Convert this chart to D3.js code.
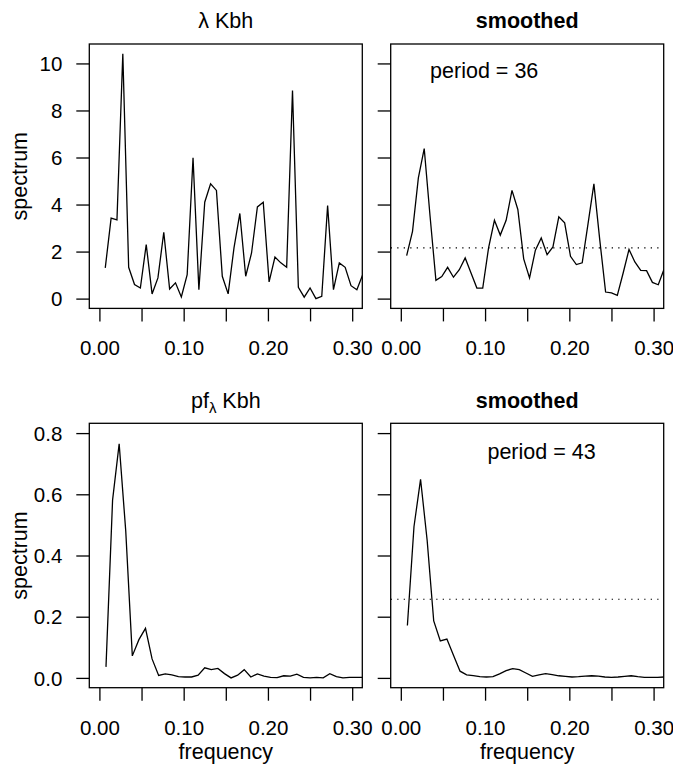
<!DOCTYPE html>
<html>
<head>
<meta charset="utf-8">
<script src="https://cdn.jsdelivr.net/npm/d3@7"></script>
<style>
  body { margin: 0; background: #fff; }
  svg { display: block; font-family: "Liberation Sans", Arial, Helvetica, sans-serif; }
</style>
</head>
<body>
<div id="chart"></div>
<script>
// periodogram ordinates, Fourier frequencies k/144 (top) and k/128 (bottom)
const topStep = 1 / 144;
const bottomStep = 1 / 128;

const topRaw = [1.31, 3.42, 3.35, 10.41, 1.33, 0.60, 0.45, 2.30, 0.20, 0.88,
  2.82, 0.41, 0.67, 0.07, 1.02, 5.99, 0.38, 4.10, 4.88, 4.60,
  0.95, 0.20, 2.16, 3.62, 0.95, 1.94, 3.90, 4.10, 0.71, 1.77,
  1.52, 1.33, 8.85, 0.48, 0.06, 0.45, 0.00, 0.10, 3.96, 0.38,
  1.52, 1.33, 0.55, 0.38, 1.02];

const topSmooth = [1.83, 2.86, 5.13, 6.38, 3.50, 0.78, 0.94, 1.33, 0.91, 1.23,
  1.73, 1.09, 0.45, 0.45, 2.16, 3.33, 2.70, 3.33, 4.60, 3.79,
  1.69, 0.88, 2.06, 2.58, 1.87, 2.20, 3.48, 3.22, 1.80, 1.45,
  1.52, 3.19, 4.88, 2.50, 0.28, 0.24, 0.14, 1.09, 2.09, 1.56,
  1.20, 1.19, 0.69, 0.59, 1.26];

const bottomRaw = [0.036, 0.581, 0.765, 0.48, 0.072, 0.125, 0.162, 0.062, 0.008, 0.013,
  0.010, 0.004, 0.003, 0.003, 0.009, 0.033, 0.027, 0.031, 0.014, 0.000,
  0.009, 0.027, 0.003, 0.013, 0.006, 0.002, 0.001, 0.007, 0.006, 0.012,
  0.002, 0.000, 0.002, 0.000, 0.014, 0.004, 0.000, 0.002, 0.002, 0.002];

const bottomSmooth = [0.171, 0.494, 0.649, 0.45, 0.186, 0.121, 0.127, 0.074, 0.022, 0.010,
  0.0075, 0.004, 0.003, 0.004, 0.013, 0.024, 0.030, 0.027, 0.016, 0.005,
  0.010, 0.014, 0.011, 0.007, 0.005, 0.003, 0.004, 0.006, 0.007, 0.006,
  0.003, 0.002, 0.003, 0.005, 0.007, 0.004, 0.002, 0.002, 0.002, 0.003];

// reference levels (dotted) and period annotations
const topLevel = 2.16;
const bottomLevel = 0.257;
const topPeriod = 'period = 36';
const bottomPeriod = 'period = 43';

const xLim = [0, 0.3];
const topYLim = [0, 10.41];
const bottomYLim = [0, 0.8];

const xTicks = [0, 0.05, 0.10, 0.15, 0.20, 0.25, 0.30];
const xTickLabels = ['0.00', '', '0.10', '', '0.20', '', '0.30'];
const topYTicks = [0, 2, 4, 6, 8, 10];
const topYTickLabels = ['0', '2', '4', '6', '8', '10'];
const bottomYTicks = [0, 0.2, 0.4, 0.6, 0.8];
const bottomYTickLabels = ['0.0', '0.2', '0.4', '0.6', '0.8'];

// R-style 4% axis extension
function extend(lim) {
  const d = (lim[1] - lim[0]) * 0.04;
  return [lim[0] - d, lim[1] + d];
}

const width = 673, height = 774;
const svg = d3.select('#chart').append('svg')
  .attr('width', width)
  .attr('height', height);

const colX = [89.3, 390.7];
const rowY = [44, 423.3];
const pw = 273, ph = 264.4;
const fs = 20.5;   // tick labels
const ls = 21.5;   // titles, axis labels, annotations

const panels = [
  { col: 0, row: 0, values: topRaw, step: topStep, ylim: topYLim, yt: topYTicks, ytl: topYTickLabels, title: 'raw', xlab: false },
  { col: 1, row: 0, values: topSmooth, step: topStep, ylim: topYLim, yt: topYTicks, ytl: null, title: 'smoothed', level: topLevel, period: topPeriod, periodAt: [0.099, 9.7], xlab: false },
  { col: 0, row: 1, values: bottomRaw, step: bottomStep, ylim: bottomYLim, yt: bottomYTicks, ytl: bottomYTickLabels, title: 'pf', xlab: true },
  { col: 1, row: 1, values: bottomSmooth, step: bottomStep, ylim: bottomYLim, yt: bottomYTicks, ytl: null, title: 'smoothed', level: bottomLevel, period: bottomPeriod, periodAt: [0.167, 0.74], xlab: true }
];

panels.forEach((p, i) => {
  const x0 = colX[p.col], y0 = rowY[p.row];
  const g = svg.append('g').attr('transform', `translate(${x0},${y0})`);

  const x = d3.scaleLinear().domain(extend(xLim)).range([0, pw]);
  const y = d3.scaleLinear().domain(extend(p.ylim)).range([ph, 0]);

  // clip to the plot box
  g.append('clipPath').attr('id', 'clip' + i)
    .append('rect').attr('width', pw).attr('height', ph);

  const pts = p.values.map((v, k) => ({ f: (k + 1) * p.step, v: v }));
  const line = d3.line().x(d => x(d.f)).y(d => y(d.v));

  g.append('path')
    .datum(pts)
    .attr('clip-path', `url(#clip${i})`)
    .attr('d', line)
    .style('fill', 'none')
    .style('stroke', '#000')
    .style('stroke-width', 1.3)
    .style('stroke-linejoin', 'miter');

  if (p.level !== undefined) {
    g.append('line')
      .attr('x1', 0).attr('x2', pw)
      .attr('y1', y(p.level)).attr('y2', y(p.level))
      .style('stroke', '#000')
      .style('stroke-width', 1.2)
      .style('stroke-dasharray', '1.3,5.2');
  }

  // box
  g.append('rect')
    .attr('width', pw).attr('height', ph)
    .style('fill', 'none')
    .style('stroke', '#000')
    .style('stroke-width', 1.3);

  // x axis
  const xa = g.append('g')
    .attr('transform', `translate(0,${ph})`)
    .call(d3.axisBottom(x).tickValues(xTicks).tickSize(13).tickPadding(20)
      .tickFormat((d, j) => xTickLabels[j]));
  // y axis
  const ya = g.append('g')
    .call(d3.axisLeft(y).tickValues(p.yt).tickSize(13).tickPadding(14)
      .tickFormat((d, j) => p.ytl ? p.ytl[j] : ''));

  [xa, ya].forEach(a => {
    a.select('.domain').remove();
    a.selectAll('line').style('stroke', '#000').style('stroke-width', 1.3);
    a.selectAll('text').style('font-size', fs + 'px').style('fill', '#000')
      .style('font-family', '"Liberation Sans", Arial, sans-serif');
  });
  xa.selectAll('text').attr('dy', null).attr('y', 47).attr('dominant-baseline', 'auto');
  ya.selectAll('text').attr('dy', '0.35em');

  // titles
  const tx = x0 + pw / 2;
  const ty = p.row === 0 ? 27.5 : 408;
  if (p.title === 'raw') {
    svg.append('text').attr('x', tx).attr('y', ty).attr('text-anchor', 'middle')
      .style('font-size', ls + 'px').text('λ Kbh');
  } else if (p.title === 'pf') {
    const t = svg.append('text').attr('x', tx).attr('y', ty).attr('text-anchor', 'middle')
      .style('font-size', ls + 'px');
    t.append('tspan').text('pf');
    t.append('tspan').attr('dy', 5).style('font-size', '15px').text('λ');
    t.append('tspan').attr('dy', -5).text(' Kbh');
  } else {
    svg.append('text').attr('x', tx).attr('y', ty).attr('text-anchor', 'middle')
      .style('font-size', ls + 'px').style('font-weight', 'bold').text('smoothed');
  }

  if (p.period) {
    g.append('text')
      .attr('x', x(p.periodAt[0])).attr('y', y(p.periodAt[1]))
      .attr('text-anchor', 'middle')
      .attr('dy', '0.35em')
      .style('font-size', ls + 'px')
      .text(p.period);
  }

  if (p.col === 0) {
    svg.append('text')
      .attr('transform', `translate(27,${y0 + ph / 2}) rotate(-90)`)
      .attr('text-anchor', 'middle')
      .style('font-size', ls + 'px')
      .text('spectrum');
  }

  if (p.xlab) {
    svg.append('text')
      .attr('x', tx).attr('y', 759)
      .attr('text-anchor', 'middle')
      .style('font-size', ls + 'px')
      .text('frequency');
  }
});
</script>
</body>
</html>
